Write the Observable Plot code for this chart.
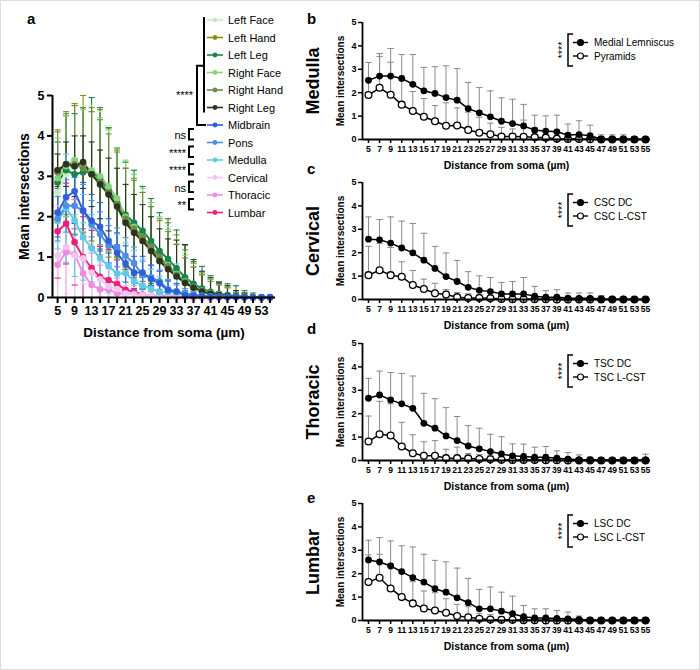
<!DOCTYPE html>
<html>
<head>
<meta charset="utf-8">
<script src="https://cdn.jsdelivr.net/npm/d3@7"></script>
<script src="https://cdn.jsdelivr.net/npm/@observablehq/plot@0.6"></script>
<style>
  body { margin: 0; background: #fff; }
  #fig { position: relative; width: 700px; height: 670px; background: #fff; font-family: "Liberation Sans", Arial, sans-serif; overflow: hidden; }
  #fig > svg, #fig > figure { position: absolute; margin: 0; }
</style>
</head>
<body>
<div id="fig"></div>
<script>
// Sholl analysis: mean intersections vs distance from soma
const distances = [5,7,9,11,13,15,17,19,21,23,25,27,29,31,33,35,37,39,41,43,45,47,49,51,53,55];

// ---- panel a: all regions ----
const regionNames  = ["Left Face","Left Hand","Left Leg","Right Face","Right Hand","Right Leg","Midbrain","Pons","Medulla","Cervical","Thoracic","Lumbar"];
const regionColors = ["#c5f0bd","#8c8c14","#17844a","#84d47a","#6f8a45","#2c3322","#2f5fd8","#4b8fe2","#5fcbea","#f6c6ee","#f28ae3","#ee1f76"];

const leftFaceMean  = [2.60,3.05,3.35,3.15,3.05,2.95,2.70,2.45,2.00,1.70,1.50,1.25,1.00,0.80,0.60,0.42,0.28,0.18,0.12,0.08,0.05,0.03,0.02,0.01,0,0];
const leftFaceSD    = [1.25,1.45,1.45,1.60,1.70,1.65,1.55,1.25,1.35,1.45,1.25,1.20,1.10,0.95,0.85,0.70,0.55,0.45,0.40,0.30,0.20,0.15,0.10,0.05,0,0];
const leftHandMean  = [3.15,3.30,3.25,3.30,3.05,2.85,2.60,2.30,1.90,1.65,1.45,1.20,0.95,0.75,0.55,0.38,0.25,0.16,0.10,0.06,0.04,0.02,0.01,0,0,0];
const leftHandSD    = [1.00,1.30,1.55,1.70,1.65,1.80,1.60,1.35,1.30,1.30,1.15,1.05,1.00,1.10,1.00,0.80,0.60,0.45,0.35,0.30,0.25,0.15,0.10,0.05,0,0];
const leftLegMean   = [2.85,3.15,3.05,3.10,3.10,2.95,2.65,2.35,2.05,1.85,1.65,1.40,1.15,0.95,0.72,0.50,0.34,0.22,0.14,0.09,0.06,0.04,0.02,0.01,0,0];
const leftLegSD     = [1.00,1.35,1.50,1.60,1.85,1.75,1.55,1.35,1.30,1.30,1.10,1.05,0.95,1.00,0.95,0.80,0.55,0.55,0.40,0.30,0.28,0.25,0.15,0.10,0,0];
const rightFaceMean = [2.95,3.25,3.40,3.25,3.15,3.00,2.75,2.45,2.00,1.75,1.50,1.25,1.00,0.78,0.58,0.40,0.26,0.17,0.11,0.07,0.04,0.02,0.01,0,0,0];
const rightFaceSD   = [1.00,1.25,1.35,1.40,1.45,1.45,1.40,1.25,1.40,1.30,1.20,1.10,1.00,0.90,0.75,0.65,0.50,0.40,0.35,0.25,0.20,0.10,0.05,0,0,0];
const rightHandMean = [3.10,3.30,3.30,3.20,3.05,2.85,2.60,2.30,1.95,1.70,1.50,1.25,1.00,0.78,0.56,0.38,0.25,0.16,0.10,0.06,0.04,0.02,0.01,0,0,0];
const rightHandSD   = [1.00,1.25,1.45,1.50,1.55,1.55,1.45,1.30,1.25,1.20,1.10,1.00,0.90,0.85,0.75,0.60,0.50,0.40,0.30,0.25,0.20,0.10,0.05,0,0,0];
const rightLegMean  = [3.15,3.30,3.25,3.35,3.05,2.80,2.55,2.25,1.85,1.60,1.40,1.15,0.90,0.70,0.52,0.36,0.24,0.15,0.09,0.06,0.04,0.02,0.01,0,0,0];
const rightLegSD    = [0.40,0.55,0.75,0.65,0.80,0.85,0.90,0.95,0.95,0.95,0.90,0.85,0.80,0.75,0.90,0.95,0.70,0.50,0.40,0.30,0.25,0.15,0.10,0,0,0];
const midbrainMean  = [2.10,2.48,2.63,2.15,1.90,1.75,1.40,1.10,0.83,0.62,0.62,0.45,0.35,0.18,0.15,0.05,0.04,0.03,0.02,0.02,0.02,0.02,0.01,0.01,0.01,0.01];
const midbrainSD    = [0.60,0.70,0.80,0.70,0.65,0.60,0.55,0.50,0.45,0.40,0.40,0.35,0.30,0.25,0.20,0.12,0.10,0.08,0.06,0.05,0.04,0.03,0.02,0.02,0.01,0.01];
const ponsMean      = [1.95,2.27,2.27,2.15,1.80,1.57,1.28,1.24,1.03,0.85,0.55,0.50,0.40,0.20,0.15,0.10,0.06,0.05,0.03,0.02,0.02,0.01,0.01,0,0,0];
const ponsSD        = [0.55,0.65,0.70,0.65,0.60,0.55,0.50,0.48,0.45,0.40,0.35,0.30,0.28,0.20,0.16,0.12,0.08,0.07,0.05,0.04,0.03,0.02,0.02,0,0,0];

// ---- panels b–e: dorsal (DC / medial lemniscus) vs corticospinal (L-CST / pyramids) ----
const mlMean   = [2.53,2.71,2.71,2.61,2.36,2.08,1.97,1.79,1.68,1.32,1.14,0.97,0.78,0.68,0.58,0.40,0.36,0.33,0.19,0.21,0.16,0.02,0.02,0.02,0.01,0.01];
const mlSD     = [0.76,0.96,1.18,1.02,1.27,1.00,1.14,1.36,1.35,1.12,1.08,1.11,1.00,1.04,0.92,0.64,0.65,0.71,0.47,0.59,0.45,0.18,0.18,0.18,0.11,0.04];
const pyrMean  = [1.90,2.21,1.91,1.49,1.22,0.97,0.78,0.59,0.60,0.41,0.29,0.22,0.13,0.13,0.12,0.10,0.08,0.03,0.02,0.02,0.01,0,0,0,0,0];
const pyrSD    = [0.70,1.34,1.39,1.06,0.83,0.78,0.67,0.98,0.75,0.76,0.66,0.48,0.39,0.32,0.71,0.40,0.27,0.12,0.08,0.08,0.04,0,0,0,0,0];

const cscDcMean = [2.58,2.55,2.41,2.20,1.99,1.68,1.33,0.98,0.77,0.52,0.39,0.34,0.24,0.24,0.24,0.14,0.10,0.10,0.06,0.05,0.05,0.02,0.01,0.01,0,0];
const cscDcSD   = [0.95,0.87,1.12,1.15,1.26,1.15,0.94,1.01,0.90,0.67,0.62,0.60,0.49,0.53,0.70,0.42,0.28,0.32,0.22,0.23,0.23,0.15,0.04,0.02,0.02,0.02];
const cscLcMean = [1.04,1.25,1.04,0.97,0.62,0.45,0.27,0.21,0.10,0.06,0.06,0.05,0.02,0.01,0.01,0.01,0.01,0,0,0,0,0,0,0,0,0];
const cscLcSD   = [1.23,1.15,1.18,0.64,0.62,0.42,0.42,0.21,0.20,0.19,0.14,0.10,0.06,0.04,0.04,0.04,0.04,0,0,0,0,0,0,0,0,0];

const tscDcMean = [2.66,2.80,2.59,2.42,2.23,1.59,1.38,1.05,0.85,0.62,0.50,0.38,0.28,0.20,0.17,0.14,0.14,0.10,0.06,0.03,0.03,0.02,0.02,0.02,0.02,0.03];
const tscDcSD   = [0.85,1.02,1.17,1.30,1.38,1.28,1.26,1.21,1.03,0.87,0.88,0.74,0.74,0.51,0.53,0.43,0.46,0.31,0.28,0.21,0.12,0.08,0.08,0.08,0.10,0.24];
const tscLcMean = [0.81,1.12,1.07,0.60,0.31,0.20,0.20,0.10,0.10,0.09,0.06,0.05,0.03,0.02,0.02,0.02,0.01,0.01,0,0,0,0,0,0,0,0];
const tscLcSD   = [1.09,1.41,1.35,1.03,0.79,0.60,0.65,0.38,0.47,0.21,0.19,0.15,0.07,0.04,0.03,0.03,0.02,0.02,0,0,0,0,0,0,0,0];

const lscDcMean = [2.59,2.50,2.33,2.09,1.83,1.64,1.36,1.21,0.97,0.76,0.50,0.50,0.40,0.29,0.16,0.11,0.11,0.09,0.07,0.04,0.02,0.01,0.01,0.01,0.01,0.01];
const lscDcSD   = [0.84,1.04,1.07,1.10,1.31,1.19,1.21,1.30,1.27,1.04,0.83,0.93,0.81,0.75,0.48,0.39,0.39,0.34,0.29,0.15,0.06,0.04,0.03,0.02,0.02,0.02];
const lscLcMean = [1.64,1.83,1.37,1.00,0.73,0.51,0.43,0.33,0.19,0.14,0.07,0.04,0.03,0.03,0.01,0.01,0,0,0,0,0,0,0,0,0,0];
const lscLcSD   = [1.16,1.00,1.06,1.00,0.93,0.75,0.76,0.60,0.50,0.45,0.23,0.21,0.12,0.07,0.04,0.04,0,0,0,0,0,0,0,0,0,0];

// region arrays in legend order (medulla/spinal traces are the corticospinal ones)
const regionMeans = [leftFaceMean,leftHandMean,leftLegMean,rightFaceMean,rightHandMean,rightLegMean,midbrainMean,ponsMean,pyrMean,cscLcMean,tscLcMean,lscLcMean];
const regionSDs   = [leftFaceSD,leftHandSD,leftLegSD,rightFaceSD,rightHandSD,rightLegSD,midbrainSD,ponsSD,pyrSD,cscLcSD,tscLcSD,lscLcSD];
const regionStats = ["****","ns","****","****","ns","**"];
const yTicks = [0,1,2,3,4,5];

const font = '"Liberation Sans", Arial, sans-serif';
const fig = document.getElementById("fig");

// horizontal error-bar cap as a symbol
const capSymbol = {draw(ctx, size) { const w = Math.sqrt(size / Math.PI); ctx.moveTo(-w, 0); ctx.lineTo(w, 0); }};

function place(node, left, top) {
  node.style.left = left + "px";
  node.style.top = top + "px";
  fig.appendChild(node);
}

// ---------- panel a ----------
const drawOrder = [0,1,2,3,4,5,11,10,9,8,7,6];
const aRows = drawOrder.flatMap(k => distances.map((d, i) => ({region: regionNames[k], d, m: regionMeans[k][i], sd: regionSDs[k][i]})));
const aBars = aRows.filter(r => r.sd > 0);
const ax0 = 3.8;
const plotA = Plot.plot({
  width: 300, height: 345,
  marginLeft: 52, marginRight: 25, marginTop: 95, marginBottom: 48,
  x: {domain: [ax0, 56.3]},
  y: {domain: [0, 5]},
  color: {domain: regionNames, range: regionColors},
  style: {fontFamily: font, color: "#000", background: "transparent", overflow: "visible"},
  marks: [
    Plot.ruleX(aBars, {x: "d", y1: r => Math.max(0, r.m - r.sd), y2: r => r.m + r.sd, stroke: "region", strokeWidth: 1.1}),
    Plot.dot(aBars, {x: "d", y: r => r.m + r.sd, symbol: capSymbol, r: 3, stroke: "region", strokeWidth: 1.1}),
    Plot.dot(aBars.filter(r => r.m - r.sd > 0), {x: "d", y: r => r.m - r.sd, symbol: capSymbol, r: 3, stroke: "region", strokeWidth: 1.1}),
    Plot.line(aRows, {x: "d", y: "m", z: "region", stroke: "region", strokeWidth: 2}),
    Plot.dot(aRows, {x: "d", y: "m", fill: "region", r: 3.3}),
    Plot.ruleY([0], {strokeWidth: 2}),
    Plot.ruleX([ax0], {strokeWidth: 2}),
    Plot.axisY({ticks: yTicks, tickSize: 5, tickPadding: 3, strokeWidth: 2, fontSize: 12.5, fontWeight: "bold", label: null, tickFormat: d => String(d)}),
    Plot.axisX({ticks: distances, tickSize: 6, tickPadding: 3, strokeWidth: 2, fontSize: 12.5, fontWeight: "bold", label: null,
      tickFormat: d => ((d - 5) % 4 === 0 && d < 55) ? String(d) : ""}),
    Plot.text(["Mean intersections"], {text: d => d, frameAnchor: "left", rotate: -90, dx: -28, textAnchor: "middle", lineAnchor: "middle", fontSize: 14, fontWeight: "bold"}),
    Plot.text(["Distance from soma (µm)"], {text: d => d, frameAnchor: "bottom", dy: 35, lineAnchor: "middle", fontSize: 13.5, fontWeight: "bold"})
  ]
});
place(plotA, 0, 0);

// ---------- panels b–e ----------
const bx0 = 3.92;
function regionPanel(top, regionLabel, dcMean, dcSD, lcMean, lcSD) {
  const dc = distances.map((d, i) => ({d, m: dcMean[i], sd: dcSD[i]}));
  const lc = distances.map((d, i) => ({d, m: lcMean[i], sd: lcSD[i]}));
  const bars = [...dc, ...lc].filter(r => r.sd > 0);
  const p = Plot.plot({
    width: 400, height: 176,
    marginLeft: 62, marginRight: 50, marginTop: 22, marginBottom: 37,
    x: {domain: [bx0, 55.9]},
    y: {domain: [0, 5]},
    style: {fontFamily: font, color: "#000", background: "transparent", overflow: "visible"},
    marks: [
      Plot.ruleX(bars, {x: "d", y1: "m", y2: r => r.m + r.sd, stroke: "#8a8a8a", strokeWidth: 1}),
      Plot.dot(bars, {x: "d", y: r => r.m + r.sd, symbol: capSymbol, r: 3.2, stroke: "#8a8a8a", strokeWidth: 1}),
      Plot.line(dc, {x: "d", y: "m", stroke: "#000", strokeWidth: 1.5}),
      Plot.line(lc, {x: "d", y: "m", stroke: "#000", strokeWidth: 1.5}),
      Plot.dot(lc, {x: "d", y: "m", r: 3.4, fill: "#fff", stroke: "#000", strokeWidth: 1.3}),
      Plot.dot(dc, {x: "d", y: "m", r: 3.4, fill: "#000"}),
      Plot.ruleY([0], {strokeWidth: 1.8}),
      Plot.ruleX([bx0], {strokeWidth: 1.8}),
      Plot.axisY({ticks: yTicks, tickSize: 4, tickPadding: 2, strokeWidth: 1.5, fontSize: 9, fontWeight: 600, label: null, tickFormat: d => String(d)}),
      Plot.axisX({ticks: distances, tickSize: 4, tickPadding: 2, strokeWidth: 1.5, fontSize: 8.6, fontWeight: "bold", label: null, tickFormat: d => String(d)}),
      Plot.text(["Mean intersections"], {text: d => d, frameAnchor: "left", rotate: -90, dx: -22, textAnchor: "middle", lineAnchor: "middle", fontSize: 10, fontWeight: 600}),
      Plot.text([regionLabel], {text: d => d, frameAnchor: "left", rotate: -90, dx: -49, textAnchor: "middle", lineAnchor: "middle", fontSize: 18, fontWeight: "bold"}),
      Plot.text(["Distance from soma (µm)"], {text: d => d, frameAnchor: "bottom", dy: 26, lineAnchor: "middle", fontSize: 10.5, fontWeight: "bold"})
    ]
  });
  place(p, 300, top);
}
const panelTops = [0, 160, 321, 481];
regionPanel(panelTops[0], "Medulla",  mlMean,    mlSD,    pyrMean,   pyrSD);
regionPanel(panelTops[1], "Cervical", cscDcMean, cscDcSD, cscLcMean, cscLcSD);
regionPanel(panelTops[2], "Thoracic", tscDcMean, tscDcSD, tscLcMean, tscLcSD);
regionPanel(panelTops[3], "Lumbar",   lscDcMean, lscDcSD, lscLcMean, lscLcSD);

// ---------- legends, significance brackets, panel letters ----------
const svg = d3.create("svg").attr("width", 700).attr("height", 670)
  .style("pointer-events", "none").style("font-family", font);
svg.append("rect").attr("x", 0.5).attr("y", 0.5).attr("width", 699).attr("height", 669)
  .attr("fill", "none").attr("stroke", "#dcdcdc");

[["a", 27, 18], ["b", 307, 18], ["c", 307, 168], ["d", 307, 328], ["e", 307, 497]].forEach(([t, x, y]) =>
  svg.append("text").attr("x", x).attr("y", y).attr("dominant-baseline", "central")
    .attr("font-size", 15).attr("font-weight", "bold").text(t));

// panel a legend
const rowY = i => 20 + i * 17.5;
const legA = svg.append("g");
regionNames.forEach((name, i) => {
  const y = rowY(i);
  legA.append("line").attr("x1", 207).attr("x2", 223).attr("y1", y).attr("y2", y)
    .attr("stroke", regionColors[i]).attr("stroke-width", 1.6);
  legA.append("circle").attr("cx", 215).attr("cy", y).attr("r", 2.4).attr("fill", regionColors[i]);
  legA.append("text").attr("x", 228).attr("y", y).attr("dominant-baseline", "central")
    .attr("font-size", 11).text(name);
});
function path(g, d) {
  g.append("path").attr("d", d).attr("fill", "none").attr("stroke", "#000").attr("stroke-width", 2);
}
// limb group vs midbrain
path(legA, `M204,${rowY(0) - 3}V${rowY(5) + 5}`);
path(legA, `M204,${(rowY(0) + rowY(5)) / 2 + 2}H197V${rowY(6)}H206`);
legA.append("text").attr("x", 193).attr("y", 95).attr("text-anchor", "end").attr("dominant-baseline", "central")
  .attr("font-size", 11).text(regionStats[0]);
// adjacent-level comparisons
for (let k = 1; k < regionStats.length; k++) {
  const i = 5 + k;
  const y1 = rowY(i) + 4, y2 = rowY(i + 1) - 3;
  path(legA, `M194,${y1}H189V${y2}H194`);
  legA.append("text").attr("x", 186).attr("y", (y1 + y2) / 2 + 1).attr("text-anchor", "end")
    .attr("dominant-baseline", "central").attr("font-size", 11).text(regionStats[k]);
}

// panels b–e legends
const pairNames = [["Medial Lemniscus", "Pyramids"], ["CSC DC", "CSC L-CST"], ["TSC DC", "TSC L-CST"], ["LSC DC", "LSC L-CST"]];
pairNames.forEach((names, p) => {
  const t = panelTops[p] + 22;
  const g = svg.append("g");
  const y1 = t + 12, y2 = t + 44;
  g.append("path").attr("d", `M573,${y1}H568V${y2}H573`).attr("fill", "none").attr("stroke", "#000").attr("stroke-width", 1.5);
  g.append("text").attr("transform", `translate(562,${(y1 + y2) / 2}) rotate(-90)`)
    .attr("text-anchor", "middle").attr("dominant-baseline", "central").attr("font-size", 11).text("****");
  [t + 20.5, t + 34].forEach((y, i) => {
    g.append("line").attr("x1", 573).attr("x2", 588).attr("y1", y).attr("y2", y).attr("stroke", "#000").attr("stroke-width", 1.4);
    g.append("circle").attr("cx", 580.5).attr("cy", y).attr("r", 3)
      .attr("fill", i === 0 ? "#000" : "#fff").attr("stroke", "#000").attr("stroke-width", 1.2);
    g.append("text").attr("x", 594).attr("y", y).attr("dominant-baseline", "central").attr("font-size", 10).text(names[i]);
  });
});
place(svg.node(), 0, 0);
</script>
</body>
</html>
